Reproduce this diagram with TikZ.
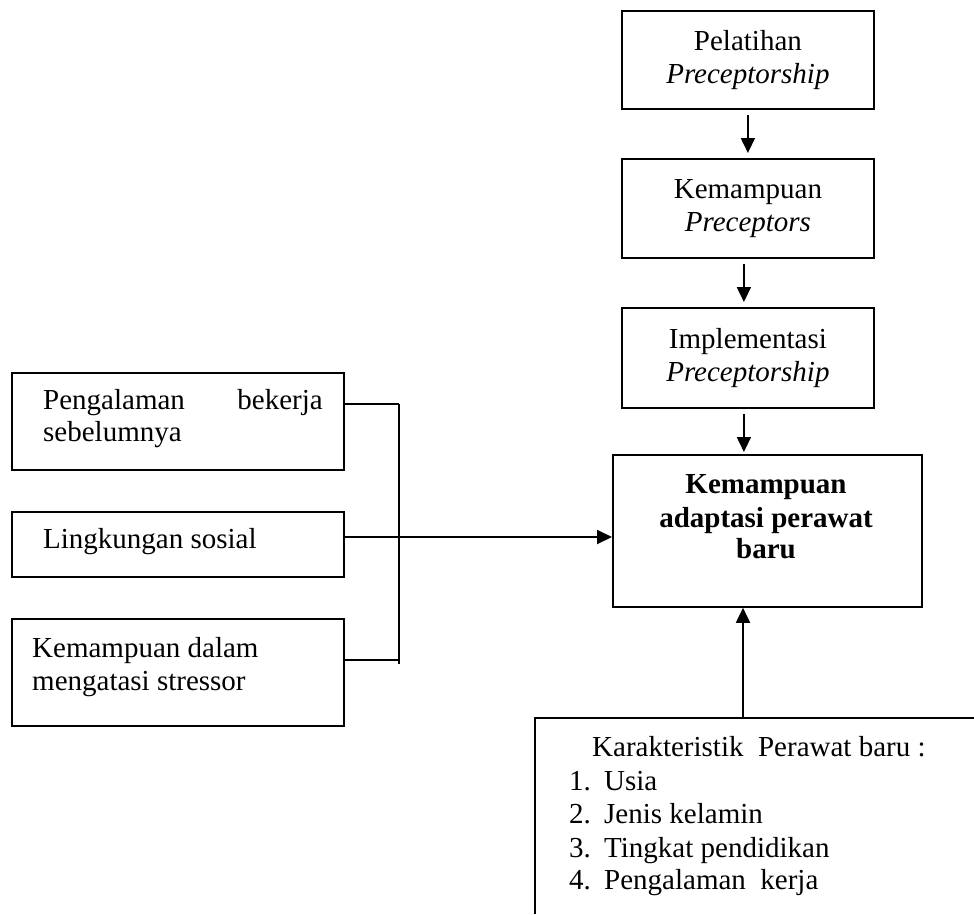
\documentclass[tikz,border=0pt]{standalone}
\usepackage{fontspec}
\setmainfont{Liberation Serif}
\usetikzlibrary{arrows.meta}

\begin{document}
\begin{tikzpicture}[x=1pt, y=-1pt,
  every node/.style={font=\fontsize{29pt}{33pt}\selectfont, inner sep=0pt},
  box/.style={draw, line width=1.8pt, rectangle, anchor=north west, align=center},
  arr/.style={line width=1.8pt, -{Triangle[length=15pt, width=14pt]}},
  conn/.style={line width=1.8pt},
  boldline/.style={anchor=base, font=\fontsize{29pt}{33pt}\selectfont\bfseries}]

  \useasboundingbox (0,0) rectangle (974,914);

  % chain of boxes on the right
  \node[box, minimum width=252pt, minimum height=98pt] (b1) at (621,10)
    {Pelatihan\\\textit{Preceptorship}};
  \node[box, minimum width=252pt, minimum height=99pt] (b2) at (621,158)
    {Kemampuan\\\textit{Preceptors}};
  \node[box, minimum width=252pt, minimum height=100pt] (b3) at (621,307)
    {Implementasi\\\textit{Preceptorship}};
  \node[box, minimum width=309pt, minimum height=152pt] (main) at (612,454) {};
  \node[boldline] at (766,493) {Kemampuan};
  \node[boldline] at (766,527) {adaptasi perawat};
  \node[boldline] at (766,558) {baru};

  \draw[arr, shorten <=5pt, shorten >=5pt] (b1.south) -- (b2.north);
  \draw[arr, shorten <=5pt, shorten >=5pt] ([xshift=-4pt]b2.south) -- ([xshift=-4pt]b3.north);
  \draw[arr, shorten <=5pt, shorten >=2pt] ([xshift=-4pt]b3.south) -- ([xshift=-4pt]b3.south |- main.north);

  % boxes on the left
  \node[box, minimum width=332pt, minimum height=97pt] (l1) at (11,372) {};
  \node[anchor=base west] at (43,409) {Pengalaman};
  \node[anchor=base east] at (323,409) {bekerja};
  \node[anchor=base west] at (43,441) {sebelumnya};

  \node[box, minimum width=332pt, minimum height=65pt] (l2) at (11,511) {};
  \node[anchor=base west] at (43,548) {Lingkungan sosial};

  \node[box, minimum width=332pt, minimum height=107pt] (l3) at (11,618) {};
  \node[anchor=base west] at (32,657) {Kemampuan dalam};
  \node[anchor=base west] at (32,690) {mengatasi stressor};

  % bracket joining the left boxes
  \coordinate (bt) at (399,404);
  \coordinate (bb) at (399,664);
  \draw[conn] (l1.east |- bt) -- (bt);
  \draw[conn] (l3.east |- 0,660) -- (399,660);
  \draw[conn] (bt) -- (bb);
  \draw[arr] (l2.east |- 0,537) -- (main.west |- 0,537);

  % open box at the bottom right
  \coordinate (kl) at (535,718);
  \coordinate (kar) at (743,718);
  \draw[conn] (974,718) -- (kl) -- (535,914);
  \draw[arr] (kar) -- (kar |- main.south);

  \node[anchor=base west] at (592,756) {Karakteristik\ \ Perawat baru :};
  \node[anchor=base west] at (569,790) {1.};
  \node[anchor=base west] at (604,790) {Usia};
  \node[anchor=base west] at (569,823) {2.};
  \node[anchor=base west] at (604,823) {Jenis kelamin};
  \node[anchor=base west] at (569,857) {3.};
  \node[anchor=base west] at (604,857) {Tingkat pendidikan};
  \node[anchor=base west] at (569,889) {4.};
  \node[anchor=base west] at (604,889) {Pengalaman\ \ kerja};
\end{tikzpicture}
\end{document}
